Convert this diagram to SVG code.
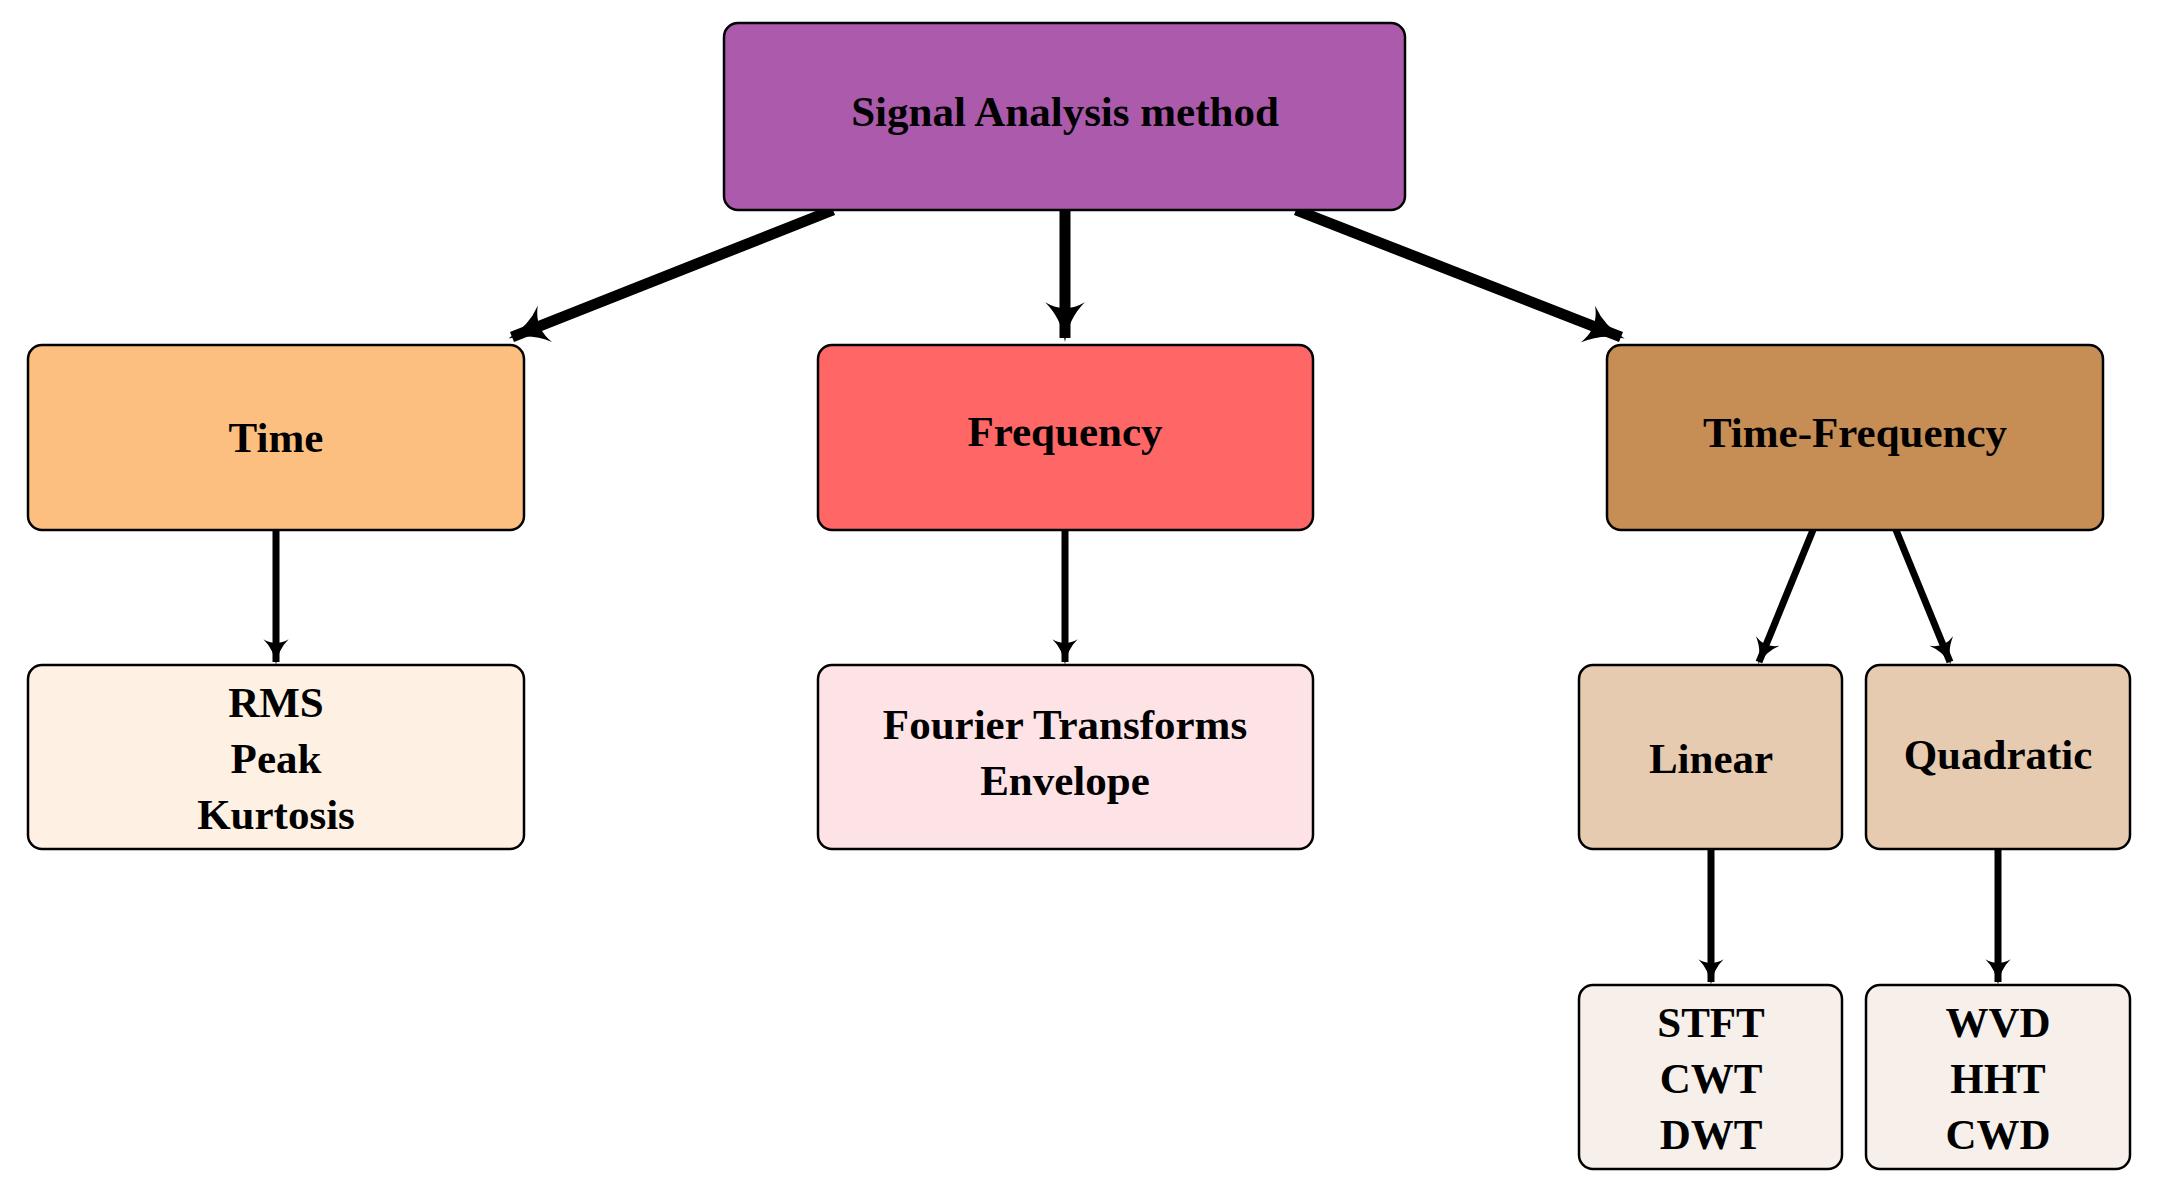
<svg xmlns="http://www.w3.org/2000/svg" width="2162" height="1198" viewBox="0 0 2162 1198">
<style>
.b{stroke:#000;stroke-width:2.5}
text{font-family:"Liberation Serif",serif;font-weight:bold;font-size:43px;text-anchor:middle;fill:#000}
.c{fill:none;stroke:#000}
</style>
<defs>
<marker id="a" viewBox="0 0 10 10" refX="9" refY="5" markerWidth="3.6" markerHeight="3.6" orient="auto" markerUnits="strokeWidth">
<path d="M0,0 Q4,4 10,5 Q4,6 0,10 Q3,5 0,0Z" fill="#000"/>
</marker>
</defs>
<g id="connectors">
<path class="c" stroke-width="11" d="M833,210L512,337" marker-end="url(#a)"/>
<path class="c" stroke-width="11" d="M1065,210L1065,338" marker-end="url(#a)"/>
<path class="c" stroke-width="11" d="M1296,210L1621,337" marker-end="url(#a)"/>
<path class="c" stroke-width="7" d="M276,530L276,662" marker-end="url(#a)"/>
<path class="c" stroke-width="7" d="M1065,530L1065,662" marker-end="url(#a)"/>
<path class="c" stroke-width="7" d="M1813,530L1759,662" marker-end="url(#a)"/>
<path class="c" stroke-width="7" d="M1896,530L1950,662" marker-end="url(#a)"/>
<path class="c" stroke-width="7" d="M1711,849L1711,982" marker-end="url(#a)"/>
<path class="c" stroke-width="7" d="M1998,849L1998,982" marker-end="url(#a)"/>
</g>
<g id="root"><rect class="b" x="724" y="23" width="681" height="187" rx="14" fill="#AC5AAB"/><text x="1065" y="126">Signal  Analysis  method</text></g>
<g id="time"><rect class="b" x="28" y="345" width="496" height="185" rx="14" fill="#FDBF80"/><text x="276" y="452">Time</text></g>
<g id="freq"><rect class="b" x="818" y="345" width="495" height="185" rx="14" fill="#FF6666"/><text x="1065" y="446">Frequency</text></g>
<g id="tf"><rect class="b" x="1607" y="345" width="496" height="185" rx="14" fill="#C68D55"/><text x="1855" y="447">Time-Frequency</text></g>
<g id="timeleaf"><rect class="b" x="28" y="665" width="496" height="184" rx="14" fill="#FEF0E2"/><text x="276" y="717">RMS</text><text x="276" y="773">Peak</text><text x="276" y="829">Kurtosis</text></g>
<g id="freqleaf"><rect class="b" x="818" y="665" width="495" height="184" rx="14" fill="#FEE3E6"/><text x="1065" y="739">Fourier Transforms</text><text x="1065" y="795">Envelope</text></g>
<g id="linear"><rect class="b" x="1579" y="665" width="263" height="184" rx="14" fill="#E6CBB0"/><text x="1711" y="773">Linear</text></g>
<g id="quadratic"><rect class="b" x="1866" y="665" width="264" height="184" rx="14" fill="#E6CBB0"/><text x="1998" y="769">Quadratic</text></g>
<g id="linleaf"><rect class="b" x="1579" y="985" width="263" height="184" rx="14" fill="#F7F0EA"/><text x="1711" y="1037">STFT</text><text x="1711" y="1093">CWT</text><text x="1711" y="1149">DWT</text></g>
<g id="quadleaf"><rect class="b" x="1866" y="985" width="264" height="184" rx="14" fill="#F7F0EA"/><text x="1998" y="1037">WVD</text><text x="1998" y="1093">HHT</text><text x="1998" y="1149">CWD</text></g>
</svg>
